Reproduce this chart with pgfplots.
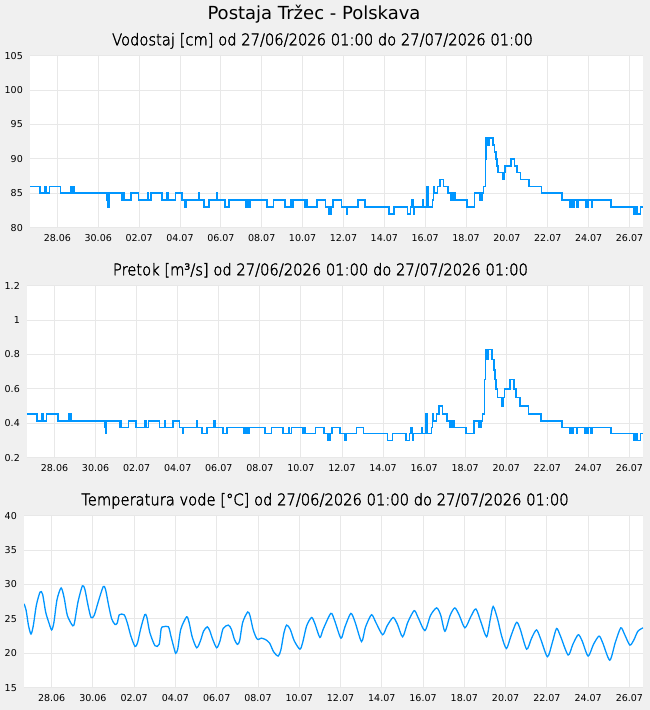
\documentclass[border=0pt]{standalone}
\usepackage{fontspec}
\setmainfont{DejaVu Sans}
\IfFontExistsTF{DejaVu Sans ExtraLight}{\newfontfamily\lightfont[FakeStretch=0.92,FakeBold=2]{DejaVu Sans ExtraLight}}{\newfontfamily\lightfont[FakeStretch=0.92]{DejaVu Sans}}
\usepackage{pgfplots}
\usepackage{pgfplotstable}
\pgfplotsset{compat=1.18}
\definecolor{bgcol}{RGB}{240,240,240}
\definecolor{gridcol}{RGB}{232,232,232}
\definecolor{linecol}{RGB}{0,150,255}

\pgfplotstableread{
day lvl flow
0.00 86 0.455
0.50 85 0.415
0.72 86 0.455
0.80 85 0.415
0.95 86 0.455
1.50 85 0.415
2.02 86 0.455
2.06 85 0.415
2.12 86 0.455
2.17 85 0.415
3.78 84 0.375
3.82 83 0.34
3.86 85 0.415
4.50 84 0.375
4.56 85 0.415
4.60 84 0.375
4.94 85 0.415
5.31 84 0.375
5.75 85 0.415
5.79 84 0.375
5.92 85 0.415
6.45 84 0.375
6.70 85 0.415
6.74 84 0.375
7.12 85 0.415
7.43 84 0.375
7.58 83 0.34
7.62 84 0.375
8.25 85 0.415
8.29 84 0.375
8.52 83 0.34
8.77 84 0.375
9.12 85 0.415
9.16 84 0.375
9.55 83 0.34
9.74 84 0.375
10.55 83 0.34
10.59 84 0.375
10.64 83 0.34
10.68 84 0.375
10.76 83 0.34
10.80 84 0.375
11.60 83 0.34
11.91 84 0.375
12.48 83 0.34
12.74 84 0.375
12.78 83 0.34
12.88 84 0.375
13.44 83 0.34
13.52 84 0.375
13.56 83 0.34
14.05 84 0.375
14.47 83 0.34
14.64 82 0.30
14.68 83 0.34
14.72 82 0.30
14.76 83 0.34
14.84 84 0.375
15.25 83 0.34
15.49 82 0.30
15.53 83 0.34
16.05 84 0.375
16.38 83 0.34
17.56 82 0.30
17.80 83 0.34
18.47 82 0.30
18.62 83 0.34
18.70 84 0.375
18.74 83 0.34
18.77 82 0.30
18.82 83 0.34
19.21 84 0.375
19.25 83 0.34
19.40 85 0.415
19.43 86 0.455
19.47 83 0.34
19.70 84 0.375
19.74 85 0.415
19.77 86 0.455
19.80 85 0.415
19.94 86 0.455
20.07 87 0.50
20.23 86 0.455
20.45 85 0.415
20.59 84 0.375
20.63 85 0.415
20.70 84 0.375
20.74 85 0.415
20.80 84 0.375
21.38 83 0.34
21.76 85 0.415
22.02 84 0.375
22.05 85 0.415
22.10 84 0.375
22.13 85 0.415
22.19 86 0.455
22.29 90 0.655
22.32 93 0.83
22.37 92 0.77
22.46 93 0.83
22.66 92 0.77
22.74 91 0.71
22.80 90 0.655
22.85 89 0.60
22.91 88 0.55
23.14 87 0.50
23.19 88 0.55
23.25 89 0.60
23.53 90 0.655
23.72 89 0.60
23.82 88 0.55
24.00 87 0.50
24.42 86 0.455
25.04 85 0.415
26.05 84 0.375
26.44 83 0.34
26.48 84 0.375
26.57 83 0.34
26.61 84 0.375
26.77 83 0.34
26.81 84 0.375
27.18 83 0.34
27.22 84 0.375
27.30 83 0.34
27.34 84 0.375
27.48 83 0.34
27.52 84 0.375
28.43 83 0.34
29.56 82 0.30
29.60 83 0.34
29.70 82 0.30
29.87 83 0.34
30.00 83 0.34
}\levels

\pgfplotstableread{
day temp
0.00 27.2
0.10 26.3
0.22 24.0
0.34 22.8
0.45 24.0
0.60 27.0
0.78 28.9
0.90 28.6
1.05 26.0
1.20 24.5
1.34 23.4
1.45 24.5
1.60 27.8
1.80 29.5
1.95 28.0
2.10 25.5
2.36 24.0
2.45 24.5
2.62 27.5
2.83 29.8
2.95 29.3
3.10 27.0
3.25 25.2
3.40 25.5
3.60 27.5
3.84 29.7
3.95 29.3
4.10 27.0
4.25 25.0
4.41 24.2
4.52 24.4
4.62 25.6
4.85 25.6
5.00 24.5
5.18 22.5
5.38 21.0
5.50 21.5
5.65 23.5
5.85 25.6
5.95 25.3
6.10 23.0
6.35 21.1
6.55 21.3
6.65 23.6
6.75 23.85
7.00 23.85
7.12 22.5
7.25 21.0
7.35 20.0
7.45 20.6
7.60 23.5
7.88 25.3
8.00 24.5
8.15 22.4
8.37 20.8
8.55 21.8
8.70 23.2
8.88 23.85
9.00 23.3
9.15 22.0
9.34 20.8
9.50 21.8
9.65 23.6
9.90 24.1
10.05 23.5
10.20 22.0
10.34 21.3
10.45 21.8
10.60 24.5
10.84 26.0
10.95 25.5
11.10 23.5
11.25 22.3
11.35 22.0
11.50 22.2
11.70 22.0
11.90 21.5
12.10 20.2
12.32 19.6
12.45 20.5
12.60 23.0
12.73 24.1
12.90 23.5
13.10 21.8
13.37 20.6
13.50 21.5
13.70 24.0
13.94 25.2
14.10 24.3
14.34 22.3
14.50 23.5
14.87 25.8
15.05 24.8
15.36 22.2
15.55 23.8
15.84 25.8
16.05 24.5
16.36 21.7
16.55 23.8
16.84 25.6
17.05 24.5
17.38 22.7
17.60 24.0
17.89 25.2
18.10 24.2
18.35 22.4
18.60 24.5
18.91 26.2
19.10 25.2
19.43 23.3
19.70 25.5
20.00 26.6
20.20 25.5
20.40 23.2
20.65 25.5
20.88 26.6
21.10 25.5
21.37 23.7
21.65 25.3
21.90 26.45
22.15 24.5
22.42 22.4
22.60 25.0
22.74 26.8
22.95 25.0
23.15 22.5
23.38 20.7
23.60 22.5
23.87 24.5
24.05 23.5
24.36 20.6
24.60 22.2
24.84 23.4
25.05 22.0
25.37 19.5
25.60 21.5
25.81 23.6
26.00 22.5
26.37 19.75
26.60 21.3
26.86 22.7
27.05 21.8
27.34 19.6
27.60 21.3
27.87 22.5
28.05 21.5
28.39 19.0
28.65 21.5
28.92 23.7
29.10 22.8
29.36 21.2
29.55 21.9
29.75 23.2
30.00 23.7
}\temps

\pgfplotsset{
  chartstyle/.style={
    anchor=south west,
    scale only axis,
    xmin=0, xmax=30,
    axis line style={draw=none},
    axis background/.style={fill=white},
    grid=major,
    grid style={color=gridcol, line width=0.9bp},
    major tick length=0pt,
    xtick={1.34,3.34,5.34,7.34,9.34,11.34,13.34,15.34,17.34,19.34,21.34,23.34,25.34,27.34,29.34},
    xticklabels={28.06,30.06,02.07,04.07,06.07,08.07,10.07,12.07,14.07,16.07,18.07,20.07,22.07,24.07,26.07},
    xticklabel style={font=\fontsize{9.5bp}{11bp}\selectfont, inner sep=0pt, anchor=north, yshift=-6.6bp},
    yticklabel style={font=\fontsize{9.5bp}{11bp}\selectfont, inner sep=0pt, anchor=east, xshift=-7bp},
    /pgf/number format/assume math mode=true,
    /pgf/number format/fixed,
    clip=true,
  }
}

\begin{document}
\begin{tikzpicture}
\fill[bgcol] (0,0) rectangle (650bp,710bp);
\node[font=\fontsize{18bp}{21bp}\selectfont] at (314bp,696bp) {Postaja Tržec - Polskava};
\node[anchor=base, inner sep=0pt, font=\fontsize{16bp}{19bp}\lightfont] at (322.5bp,664.7bp) {Vodostaj [cm] od 27/06/2026 01:00 do 27/07/2026 01:00};
\node[anchor=base, inner sep=0pt, font=\fontsize{16bp}{19bp}\lightfont] at (320.5bp,434.7bp) {Pretok [m³/s] od 27/06/2026 01:00 do 27/07/2026 01:00};
\node[anchor=base, inner sep=0pt, font=\fontsize{16bp}{19bp}\lightfont] at (325bp,204.7bp) {Temperatura vode [°C] od 27/06/2026 01:00 do 27/07/2026 01:00};

\begin{axis}[chartstyle, at={(30bp,482.3bp)}, width=613bp, height=172bp,
  ymin=80, ymax=105, ytick={80,85,...,105}]
  \addplot[const plot, color=linecol, line width=1.6bp] table[x=day, y=lvl] {\levels};
\end{axis}

\begin{axis}[chartstyle, at={(27bp,252.3bp)}, width=616bp, height=172bp,
  ymin=0.2, ymax=1.2, ytick={0.2,0.4,0.6,0.8,1,1.2}]
  \addplot[const plot, color=linecol, line width=1.6bp] table[x=day, y=flow] {\levels};
\end{axis}

\begin{axis}[chartstyle, at={(24bp,22.3bp)}, width=619bp, height=172bp,
  ymin=15, ymax=40, ytick={15,20,...,40}]
  \addplot[smooth, tension=0.45, color=linecol, line width=1.3bp] table[x=day, y=temp] {\temps};
\end{axis}
\end{tikzpicture}
\end{document}
